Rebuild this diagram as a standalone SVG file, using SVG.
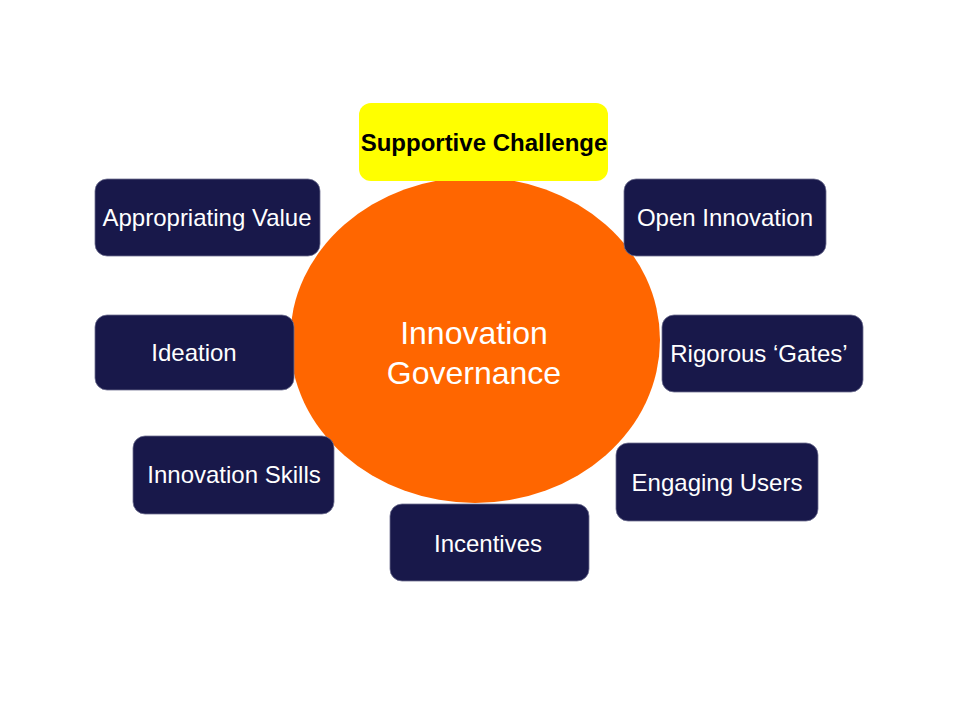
<svg xmlns="http://www.w3.org/2000/svg" width="960" height="720" viewBox="0 0 960 720">
<style>
.box{fill:#18184a;stroke:#6f7090;stroke-width:0.8}
.t{font-family:"Liberation Sans",Arial,sans-serif;font-size:24px;fill:#ffffff;text-anchor:middle}
.y{fill:#ffff00}
.tb{font-family:"Liberation Sans",Arial,sans-serif;font-size:24px;font-weight:bold;fill:#000000;text-anchor:middle}
</style>
<rect width="960" height="720" fill="#ffffff"/>
<g id="center">
<ellipse cx="475" cy="340" rx="185" ry="163" fill="#ff6600"/>
<text class="t" x="474" y="344" style="font-size:32px">Innovation</text>
<text class="t" x="474" y="384" style="font-size:32px">Governance</text>
</g>
<g id="connectors"></g>
<g id="supportive">
<rect class="y" x="359" y="103" width="249" height="78" rx="12"/>
<text class="tb" x="484" y="151">Supportive Challenge</text>
</g>
<g id="appropriating">
<rect class="box" x="95" y="179" width="225" height="77" rx="12"/>
<text class="t" x="207" y="226">Appropriating Value</text>
</g>
<g id="open">
<rect class="box" x="624" y="179" width="202" height="77" rx="12"/>
<text class="t" x="725" y="226">Open Innovation</text>
</g>
<g id="ideation">
<rect class="box" x="95" y="315" width="199" height="75" rx="12"/>
<text class="t" x="194" y="361">Ideation</text>
</g>
<g id="gates">
<rect class="box" x="662" y="315" width="201" height="77" rx="12"/>
<text class="t" x="759" y="362">Rigorous ‘Gates’</text>
</g>
<g id="skills">
<rect class="box" x="133" y="436" width="201" height="78" rx="12"/>
<text class="t" x="234" y="483">Innovation Skills</text>
</g>
<g id="users">
<rect class="box" x="616" y="443" width="202" height="78" rx="12"/>
<text class="t" x="717" y="491">Engaging Users</text>
</g>
<g id="incentives">
<rect class="box" x="390" y="504" width="199" height="77" rx="12"/>
<text class="t" x="488" y="552">Incentives</text>
</g>
</svg>
